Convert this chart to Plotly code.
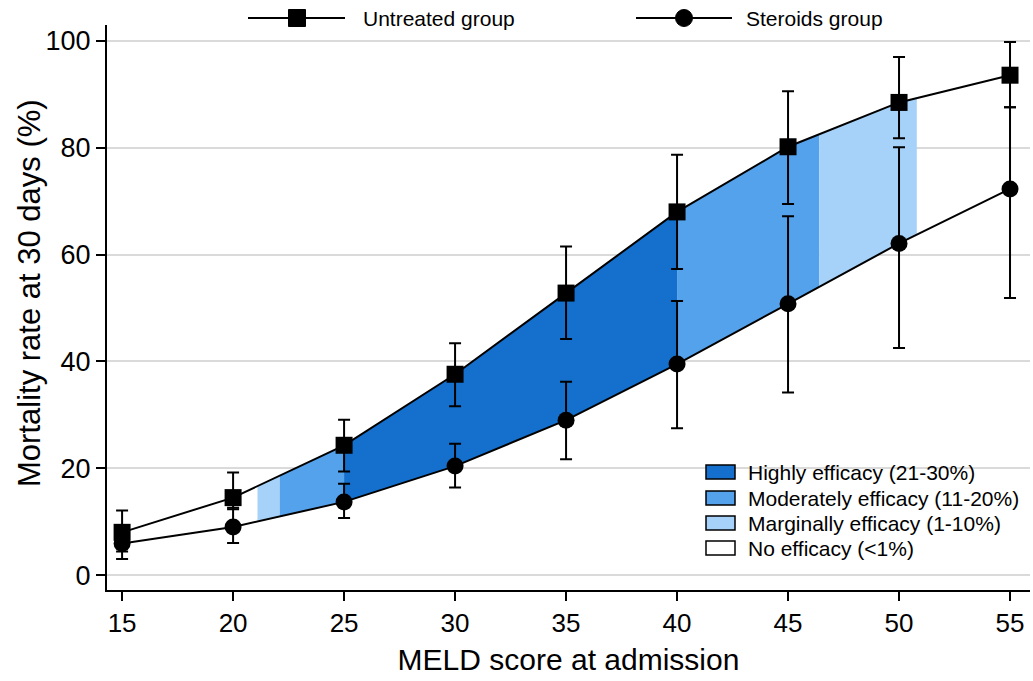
import numpy as np
import plotly.graph_objects as go

# ---- data ----
meld = [15, 20, 25, 30, 35, 40, 45, 50, 55]
untreated = [8.0, 14.5, 24.3, 37.6, 52.8, 68.0, 80.2, 88.5, 93.6]
untreated_hi = [12.1, 19.2, 29.1, 43.4, 61.5, 78.7, 90.6, 97.0, 99.8]
untreated_lo = [4.4, 12.3, 19.4, 31.6, 44.2, 57.3, 69.5, 81.8, 87.6]
steroids = [5.9, 9.0, 13.7, 20.4, 29.0, 39.5, 50.8, 62.1, 72.3]
steroids_hi = [8.6, 12.6, 17.1, 24.6, 36.2, 51.3, 67.2, 80.1, 87.6]
steroids_lo = [3.0, 6.0, 10.7, 16.4, 21.7, 27.5, 34.2, 42.5, 51.9]

# efficacy bands along MELD score (start, end, level)
band_start = [21.1, 22.1, 25.0, 40.0, 46.4]
band_end = [22.1, 25.0, 40.0, 46.4, 50.8]
band_level = ["marginal", "moderate", "high", "moderate", "marginal"]

legend_labels = ["Highly efficacy (21-30%)", "Moderately efficacy (11-20%)",
                 "Marginally efficacy (1-10%)", "No efficacy (<1%)"]
legend_levels = ["high", "moderate", "marginal", "none"]
colors = {"high": "#1470CC", "moderate": "#55A2EC", "marginal": "#A6D2FA", "none": "#FFFFFF"}

# ---- geometry helpers ----
W, H = 1033, 681
ML, MR, MT, MB = 107, 3, 25, 91
PW, PH = W - ML - MR, H - MT - MB


def px(x):
    return (x - ML) / PW


def py(y):
    return (H - MB - y) / PH


fig = go.Figure()

# band fills (geometry follows the two curves)
mx = np.array(meld, float)
for s, e, lvl in zip(band_start, band_end, band_level):
    inner = [v for v in meld if s < v < e]
    xs = [s] + inner + [e]
    up = np.interp(xs, mx, untreated)
    lo = np.interp(xs, mx, steroids)
    fig.add_trace(go.Scatter(
        x=list(xs) + list(xs[::-1]), y=list(up) + list(lo[::-1]),
        fill="toself", fillcolor=colors[lvl], mode="lines",
        line=dict(width=0, color=colors[lvl]), hoverinfo="skip", showlegend=False))

# series
fig.add_trace(go.Scatter(
    x=meld, y=untreated, mode="lines+markers", name="Untreated group",
    line=dict(color="black", width=2),
    marker=dict(symbol="square", size=17, color="black"),
    error_y=dict(type="data", symmetric=False,
                 array=[h - v for h, v in zip(untreated_hi, untreated)],
                 arrayminus=[v - l for l, v in zip(untreated_lo, untreated)],
                 color="black", thickness=2, width=6),
    showlegend=False))
fig.add_trace(go.Scatter(
    x=meld, y=steroids, mode="lines+markers", name="Steroids group",
    line=dict(color="black", width=2),
    marker=dict(symbol="circle", size=17, color="black"),
    error_y=dict(type="data", symmetric=False,
                 array=[h - v for h, v in zip(steroids_hi, steroids)],
                 arrayminus=[v - l for l, v in zip(steroids_lo, steroids)],
                 color="black", thickness=2, width=6),
    showlegend=False))

shapes = []
annotations = []

# top legend (manual)
top_items = [("Untreated group", "square", 248, 345, 297, 361),
             ("Steroids group", "circle", 636, 732, 684, 744)]
ytop = 18
for label, sym, lx0, lx1, mxp, tx in top_items:
    shapes.append(dict(type="line", xref="paper", yref="paper",
                       x0=px(lx0), x1=px(lx1), y0=py(ytop), y1=py(ytop),
                       line=dict(color="black", width=2)))
    r = 8.5
    shapes.append(dict(type="rect" if sym == "square" else "circle",
                       xref="paper", yref="paper",
                       x0=px(mxp - r), x1=px(mxp + r), y0=py(ytop + r), y1=py(ytop - r),
                       fillcolor="black", line=dict(color="black", width=1)))
    annotations.append(dict(text=label, xref="paper", yref="paper",
                            x=px(tx), y=py(ytop), xanchor="left", yanchor="middle",
                            showarrow=False, font=dict(size=21, color="black")))

# bottom-right legend (manual)
rows_y = [472, 498, 523, 548]
for label, lvl, ry in zip(legend_labels, legend_levels, rows_y):
    shapes.append(dict(type="rect", xref="paper", yref="paper",
                       x0=px(706), x1=px(735), y0=py(ry + 7), y1=py(ry - 7),
                       fillcolor=colors[lvl], line=dict(color="black", width=1.5)))
    annotations.append(dict(text=label, xref="paper", yref="paper",
                            x=px(746), y=py(ry), xanchor="left", yanchor="middle",
                            showarrow=False, font=dict(size=21, color="black")))

# y-axis title
annotations.append(dict(text="Mortality rate at 30 days (%)", xref="paper", yref="paper",
                        x=px(29), y=py(293), xanchor="center", yanchor="middle",
                        textangle=-90, showarrow=False, font=dict(size=31, color="black")))

fig.update_layout(
    width=W, height=H,
    margin=dict(l=ML, r=MR, t=MT, b=MB),
    paper_bgcolor="white", plot_bgcolor="white",
    font=dict(family="Liberation Sans, Arial, sans-serif", color="black"),
    shapes=shapes, annotations=annotations,
    showlegend=False,
    xaxis=dict(range=[14.32, 55.9], tickvals=meld, ticks="outside", ticklen=9, tickwidth=2,
               tickcolor="black", showline=True, linecolor="black", linewidth=2,
               showgrid=False, zeroline=False,
               tickfont=dict(family="Liberation Sans Narrow, Liberation Sans, sans-serif", size=26),
               title=dict(text="MELD score at admission", font=dict(size=30), standoff=12)),
    yaxis=dict(range=[-2.8, 103.0], tickvals=[0, 20, 40, 60, 80, 100], ticks="outside",
               ticklen=9, tickwidth=2, tickcolor="black", showline=True, linecolor="black",
               linewidth=2, showgrid=True, gridcolor="#DADADA", gridwidth=1.5, zeroline=False,
               tickfont=dict(size=27)),
)

fig.write_html("out.html", config={"displayModeBar": False},
               post_script="document.body.style.margin='0';document.body.style.overflow='hidden';")
